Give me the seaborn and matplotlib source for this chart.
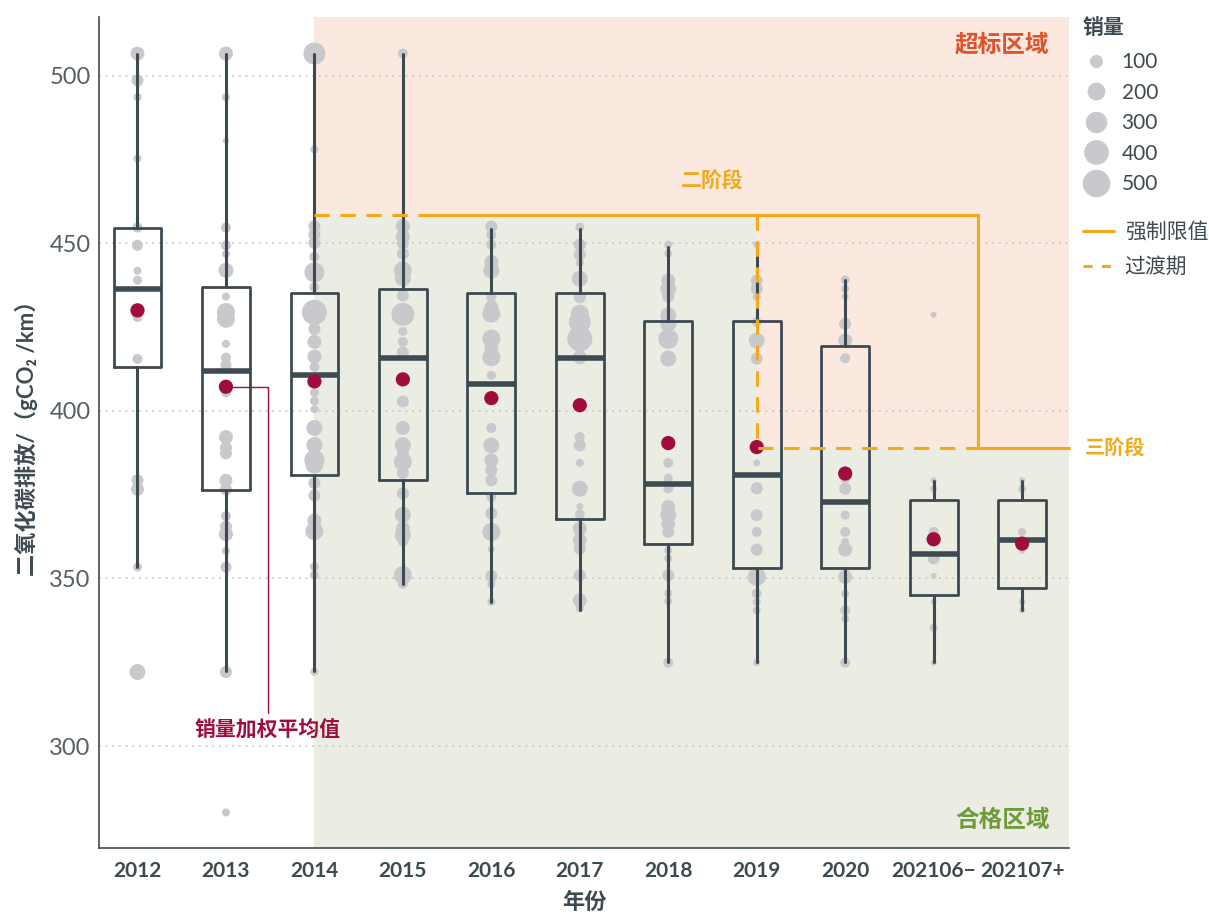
import matplotlib
matplotlib.use("Agg")
import matplotlib.pyplot as plt
from matplotlib.lines import Line2D
import numpy as np
import pandas as pd
import seaborn as sns

# categories on the x axis
YEARS = ["2012", "2013", "2014", "2015", "2016", "2017", "2018", "2019", "2020", "202106−", "202107+"]

# model-level points: CO2 (g/km) and sales
CO2_2012 = [506.6, 498.6, 493.6, 475.3, 454.7, 449.4, 441.8, 439.0, 430.0, 428.0, 415.5, 379.3, 376.6, 353.4, 322.1]
SALES_2012 = [117, 82, 27, 27, 51, 66, 27, 38, 82, 51, 51, 82, 99, 38, 158]
CO2_2013 = [506.6, 493.6, 480.6, 454.7, 449.4, 446.8, 441.9, 434.1, 429.5, 427.5, 420.0, 415.9, 413.6, 405.5,
            392.2, 389.0, 387.3, 379.3, 376.6, 368.6, 365.5, 363.2, 358.2, 353.4, 322.1, 280.2]
SALES_2013 = [117, 27, 8, 51, 51, 27, 137, 27, 205, 205, 27, 51, 66, 51, 117, 82, 82, 99, 82, 51, 82, 117, 27, 66, 82, 27]
CO2_2014 = [506.6, 478.0, 455.1, 452.6, 450.1, 446.0, 441.3, 436.9, 429.4, 424.4, 420.6, 416.2, 413.1, 405.5,
            403.0, 400.5, 394.9, 389.8, 385.4, 384.0, 378.5, 374.8, 367.3, 364.1, 353.5, 351.0, 322.2]
SALES_2014 = [315, 27, 82, 82, 82, 51, 257, 51, 411, 82, 117, 117, 51, 38, 38, 27, 158, 158, 257, 205, 82, 82, 117, 205, 38, 38, 27]
CO2_2015 = [506.6, 455.1, 452.0, 450.0, 446.9, 441.9, 439.5, 434.4, 428.8, 423.7, 420.6, 417.4, 402.8, 394.9,
            389.8, 387.6, 384.8, 381.5, 375.4, 369.0, 365.0, 362.9, 361.0, 351.0, 348.4]
SALES_2015 = [51, 117, 117, 82, 82, 205, 158, 82, 346, 38, 51, 82, 82, 117, 158, 82, 205, 82, 82, 158, 117, 158, 51, 205, 51]
CO2_2016 = [455.0, 452.5, 449.6, 444.4, 441.9, 433.9, 430.9, 429.0, 421.6, 419.0, 416.0, 410.6, 394.9, 389.7,
            385.2, 382.3, 379.3, 374.3, 369.4, 363.9, 358.7, 350.7, 348.3, 343.0]
SALES_2016 = [82, 51, 51, 117, 158, 51, 117, 205, 205, 117, 205, 38, 51, 158, 117, 82, 82, 51, 82, 205, 16, 82, 27, 27]
CO2_2017 = [454.8, 449.6, 446.6, 444.1, 439.4, 433.9, 429.0, 426.5, 421.5, 416.0, 392.2, 389.7, 384.5, 376.8,
            371.5, 369.1, 364.9, 361.4, 358.9, 351.0, 343.5, 341.1]
SALES_2017 = [38, 82, 82, 27, 158, 82, 205, 315, 411, 117, 51, 82, 27, 158, 16, 51, 117, 117, 82, 82, 117, 27]
CO2_2018 = [449.6, 446.9, 438.9, 436.4, 434.1, 428.5, 426.0, 421.5, 415.6, 384.5, 379.9, 376.9, 371.3, 369.0,
            366.4, 363.9, 358.4, 356.0, 351.0, 345.5, 343.3, 324.9]
SALES_2018 = [27, 27, 117, 158, 82, 158, 158, 257, 158, 51, 38, 51, 117, 158, 117, 82, 27, 27, 82, 27, 27, 51]
CO2_2019 = [449.6, 438.9, 436.4, 434.1, 426.5, 421.0, 415.6, 384.5, 376.9, 368.9, 363.9, 358.6, 350.5, 345.5,
            343.0, 340.5, 324.9]
SALES_2019 = [16, 82, 82, 27, 51, 158, 82, 16, 82, 82, 51, 82, 205, 51, 27, 27, 16]
CO2_2020 = [439.1, 436.4, 434.1, 426.0, 421.0, 415.7, 379.8, 376.8, 368.9, 363.9, 360.9, 358.6, 350.5, 345.5,
            340.5, 338.0, 324.9]
SALES_2020 = [38, 27, 16, 82, 117, 51, 51, 82, 38, 51, 27, 117, 117, 27, 51, 27, 51]
CO2_202106 = [428.7, 379.3, 376.8, 363.9, 356.0, 350.8, 343.0, 335.3, 324.9]
SALES_202106 = [8, 8, 16, 51, 82, 8, 8, 27, 8]
CO2_202107 = [379.3, 376.8, 363.9, 358.4, 343.0, 340.5]
SALES_202107 = [8, 27, 27, 16, 16, 8]

# box statistics per category
BOX_LOW = [353.5, 322.4, 322.4, 348.5, 343.0, 340.5, 325.1, 325.1, 325.1, 325.1, 340.7]
BOX_Q1 = [413.1, 376.3, 380.8, 379.5, 375.6, 367.7, 360.4, 353.0, 353.0, 345.0, 347.1]
BOX_MED = [436.4, 411.8, 410.6, 415.7, 408.1, 415.7, 378.3, 380.8, 372.8, 357.4, 361.4]
BOX_Q3 = [454.7, 437.1, 435.1, 436.4, 435.1, 435.1, 426.7, 426.7, 419.5, 373.5, 373.5]
BOX_HIGH = [506.5, 506.5, 506.5, 506.5, 454.3, 454.3, 449.0, 449.0, 438.9, 379.1, 379.1]

# sales-weighted mean per category
WEIGHTED_MEAN = [430.0, 407.2, 408.8, 409.4, 403.8, 401.7, 390.4, 389.2, 381.3, 361.7, 360.4]

# regulation limits
LIMIT_STAGE2 = 458.5
LIMIT_STAGE3 = 389.0
LEGEND_SALES = [100, 200, 300, 400, 500]

DARK = "#3D4A52"
GRAY_PT = "#C9C9CD"
CRIMSON = "#A00D3C"
ORANGE = "#F2AA1C"
PINK = "#FBE8DF"
GREEN = "#EBEDE3"

sns.set_style("white")
plt.rcParams["font.family"] = ["Lato", "Noto Sans CJK SC"]

co2_lists = [CO2_2012, CO2_2013, CO2_2014, CO2_2015, CO2_2016, CO2_2017,
             CO2_2018, CO2_2019, CO2_2020, CO2_202106, CO2_202107]
sales_lists = [SALES_2012, SALES_2013, SALES_2014, SALES_2015, SALES_2016, SALES_2017,
               SALES_2018, SALES_2019, SALES_2020, SALES_202106, SALES_202107]
rows = []
for i, (c, s) in enumerate(zip(co2_lists, sales_lists)):
    for cv, sv in zip(c, s):
        rows.append({"pos": i, "co2": cv, "sales": sv})
points = pd.DataFrame(rows)

fig = plt.figure(figsize=(12.09, 9.13), dpi=100)
ax = fig.add_axes([99 / 1209, 1 - 848 / 913, 970 / 1209, 831 / 913])

XMIN, XMAX = -0.435, 10.53
YMIN, YMAX = 269.6, 517.5
ax.set_xlim(XMIN, XMAX)
ax.set_ylim(YMIN, YMAX)

i14 = YEARS.index("2014")
i15 = YEARS.index("2015")
i19 = YEARS.index("2019")
i21 = YEARS.index("202106−")

# background zones
edges = [i14, i19, XMAX]
bound = [LIMIT_STAGE2, LIMIT_STAGE3, LIMIT_STAGE3]
ax.fill_between(edges, bound, YMAX, step="post", color=PINK, lw=0, zorder=0)
ax.fill_between(edges, YMIN, bound, step="post", color=GREEN, lw=0, zorder=0)

yticks = [300, 350, 400, 450, 500]
for t in yticks:
    ax.axhline(t, color="#C4C4C4", lw=1.2, ls=(0, (1, 3)), zorder=1)

sns.scatterplot(data=points, x="pos", y="co2", size="sales", sizes=(13, 467), size_norm=(0, 600),
                color=GRAY_PT, edgecolor="none", linewidth=0, alpha=1, legend=False, ax=ax, zorder=2)

stats = [dict(whislo=lo, q1=q1, med=md, q3=q3, whishi=hi)
         for lo, q1, md, q3, hi in zip(BOX_LOW, BOX_Q1, BOX_MED, BOX_Q3, BOX_HIGH)]
ax.bxp(stats, positions=range(len(YEARS)), widths=0.54, showfliers=False, showcaps=False,
       boxprops=dict(color=DARK, lw=2.0, zorder=3),
       whiskerprops=dict(color=DARK, lw=2.2, zorder=3),
       medianprops=dict(color=DARK, lw=4.0, zorder=3, solid_capstyle="butt"))

sns.scatterplot(x=range(len(YEARS)), y=WEIGHTED_MEAN, color=CRIMSON, s=105, edgecolor="none",
                linewidth=0, legend=False, ax=ax, zorder=5)

# regulation lines
ax.plot([i14, i15 + 0.25], [LIMIT_STAGE2, LIMIT_STAGE2], color=ORANGE, lw=2.2, ls=(0, (5, 3.5)), zorder=6)
ax.plot([i15 + 0.25, i21 + 0.5, i21 + 0.5, XMAX], [LIMIT_STAGE2, LIMIT_STAGE2, LIMIT_STAGE3, LIMIT_STAGE3],
        color=ORANGE, lw=2.2, zorder=6, clip_on=False)
ax.plot([i19, i19, i21 + 0.5], [LIMIT_STAGE2, LIMIT_STAGE3, LIMIT_STAGE3],
        color=ORANGE, lw=2.2, ls=(0, (5, 3.5)), zorder=6)

ax.text(6.5, 468.7, "二阶段", color=ORANGE, fontsize=15, fontweight="bold", ha="center", va="center")
ax.text(1.0165, LIMIT_STAGE3, "三阶段", color=ORANGE, fontsize=14.5, fontweight="bold", ha="left", va="center",
        transform=ax.get_yaxis_transform())
ax.text(0.98, 0.968, "超标区域", color="#E0522B", fontsize=17, fontweight="bold", ha="right", va="center",
        transform=ax.transAxes)
ax.text(0.98, 0.034, "合格区域", color="#6E9A3A", fontsize=17, fontweight="bold", ha="right", va="center",
        transform=ax.transAxes)

# weighted mean annotation
i13 = YEARS.index("2013")
ax.plot([i13, i13 + 0.475, i13 + 0.475], [WEIGHTED_MEAN[i13], WEIGHTED_MEAN[i13], 310.0],
        color=CRIMSON, lw=1.0, zorder=4)
ax.text(i13 + 0.475, 304.8, "销量加权平均值", color=CRIMSON, fontsize=15, fontweight="bold",
        ha="center", va="center")

ax.set_xticks(range(len(YEARS)))
ax.set_xticklabels(YEARS, fontsize=15, fontweight="bold", color=DARK)
ax.set_yticks(yticks)
ax.set_yticklabels([str(t) for t in yticks], fontsize=17, color="#555F66")
ax.tick_params(axis="both", length=0)
ax.tick_params(axis="x", pad=9)
ax.tick_params(axis="y", pad=6)
for side in ["top", "right"]:
    ax.spines[side].set_visible(False)
for side in ["left", "bottom"]:
    ax.spines[side].set_color(DARK)
    ax.spines[side].set_linewidth(1.2)

ax.set_xlabel("年份", fontsize=16, fontweight="bold", color=DARK, labelpad=8)
ax.set_ylabel("二氧化碳排放/（gCO₂ /km）", fontsize=16, fontweight="bold", color=DARK, labelpad=8)

# legends
s_lo, s_hi = 13, 467
size_handles = [Line2D([], [], marker="o", ls="", markersize=np.sqrt(s_lo + (v / 600) * (s_hi - s_lo)),
                       markerfacecolor=GRAY_PT, markeredgecolor="none") for v in LEGEND_SALES]
leg1 = fig.legend(size_handles, [str(v) for v in LEGEND_SALES], title="销量", loc="upper left",
                  bbox_to_anchor=(1083 / 1209, 1 - 18 / 913), frameon=False, fontsize=15,
                  title_fontproperties={"weight": "bold", "size": 15}, alignment="left",
                  handlelength=1.25, handletextpad=0.6, labelspacing=0.51, borderpad=0, borderaxespad=0,
                  labelcolor=DARK)
leg1.get_title().set_color(DARK)
leg1._legend_box.sep = 10
line_handles = [Line2D([], [], color=ORANGE, lw=2.2), Line2D([], [], color=ORANGE, lw=2.2, ls=(0, (3, 3)))]
leg2 = fig.legend(line_handles, ["强制限值", "过渡期"], loc="upper left",
                  bbox_to_anchor=(1083 / 1209, 1 - 222 / 913), frameon=False, fontsize=15,
                  handlelength=1.5, handletextpad=0.5, labelspacing=0.72, borderpad=0, borderaxespad=0,
                  labelcolor=DARK)

fig.savefig("out.png", dpi=100)
